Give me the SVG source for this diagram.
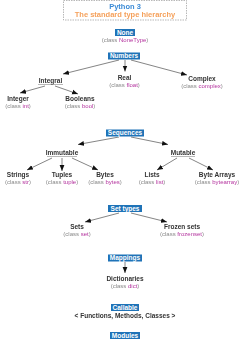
<svg xmlns="http://www.w3.org/2000/svg" width="250" height="354" viewBox="0 0 250 354">
<defs>
<style>
.bx{fill:#1f73b7}
.bt{font-family:"Liberation Sans",Arial,sans-serif;font-size:6.5px;font-weight:bold;fill:#fff;text-anchor:middle}
.nm{font-family:"Liberation Sans",Arial,sans-serif;font-size:6.5px;font-weight:bold;fill:#333;text-anchor:middle;filter:url(#gs)}
.cl{font-family:"Liberation Sans",Arial,sans-serif;font-size:6px;fill:#888;text-anchor:middle;filter:url(#id)}
.cn{fill:#b4339e}
.ln{stroke:#666;stroke-width:0.8;fill:none;marker-end:url(#ah)}
.ul{stroke:#888;stroke-width:0.6}
</style>
<filter id="gs" x="-10%" y="-50%" width="120%" height="200%"><feColorMatrix type="saturate" values="0"/></filter>
<filter id="id" x="-10%" y="-50%" width="120%" height="200%"><feOffset dx="0" dy="0"/></filter>
<marker id="ah" viewBox="0 0 10 10" refX="10" refY="5" markerWidth="6" markerHeight="6" markerUnits="userSpaceOnUse" orient="auto">
<path d="M0,1 L10,5 L0,9 z" fill="#111"/>
</marker>
</defs>
<rect x="0" y="0" width="250" height="354" fill="#fff"/>
<g id="title">
<rect x="63.5" y="0.5" width="123" height="19.5" fill="#fff" stroke="#999" stroke-width="0.7" stroke-dasharray="1.5,1"/>
<g filter="url(#id)">
<text x="125" y="8.5" font-family="Liberation Sans,Arial,sans-serif" font-size="7.5" font-weight="bold" fill="#3a8ad6" text-anchor="middle">Python 3</text>
<text x="125" y="17" font-family="Liberation Sans,Arial,sans-serif" font-size="7.5" font-weight="bold" fill="#f5a05a" text-anchor="middle">The standard type hierarchy</text>
</g>
</g>
<g id="connectors">
<line class="ln" x1="119" y1="60" x2="63" y2="74"/>
<line class="ln" x1="125" y1="60" x2="125" y2="71.5"/>
<line class="ln" x1="131" y1="60" x2="187" y2="75"/>
<line class="ln" x1="45" y1="86" x2="20" y2="93"/>
<line class="ln" x1="55" y1="86" x2="78" y2="94"/>
<line class="ln" x1="119" y1="137" x2="78" y2="144.5"/>
<line class="ln" x1="131" y1="137" x2="168" y2="144.5"/>
<line class="ln" x1="52" y1="158" x2="27" y2="170"/>
<line class="ln" x1="62" y1="158" x2="62" y2="171"/>
<line class="ln" x1="72" y1="158" x2="98" y2="170"/>
<line class="ln" x1="177" y1="158" x2="157" y2="170"/>
<line class="ln" x1="189" y1="158" x2="213" y2="170"/>
<line class="ln" x1="119" y1="213" x2="85" y2="222"/>
<line class="ln" x1="131" y1="213" x2="167" y2="222"/>
<line class="ln" x1="125" y1="262" x2="125" y2="273"/>
</g>
<g id="none"><rect class="bx" x="115" y="29" width="20" height="7"/><text class="bt" x="125" y="34.5">None</text>
<text class="cl" x="125" y="41.5">(class <tspan class="cn">NoneType</tspan>)</text></g>
<g id="numbers"><rect class="bx" x="108" y="52.5" width="32" height="7"/><text class="bt" x="124" y="58">Numbers</text></g>
<g id="integral"><text class="nm" x="50.5" y="83">Integral</text><line class="ul" x1="38" y1="84.5" x2="63" y2="84.5"/></g>
<g id="real"><text class="nm" x="124.5" y="80">Real</text><text class="cl" x="124.5" y="87">(class <tspan class="cn">float</tspan>)</text></g>
<g id="complex"><text class="nm" x="202" y="80.5">Complex</text><text class="cl" x="202" y="87.5">(class <tspan class="cn">complex</tspan>)</text></g>
<g id="integer"><text class="nm" x="18" y="101">Integer</text><text class="cl" x="18" y="108">(class <tspan class="cn">int</tspan>)</text></g>
<g id="booleans"><text class="nm" x="80" y="101">Booleans</text><text class="cl" x="80" y="108">(class <tspan class="cn">bool</tspan>)</text></g>
<g id="sequences"><rect class="bx" x="106" y="129.5" width="38" height="7"/><text class="bt" x="125" y="135">Sequences</text></g>
<g id="immutable"><text class="nm" x="62" y="155">Immutable</text><line class="ul" x1="47" y1="156.5" x2="77" y2="156.5"/></g>
<g id="mutable"><text class="nm" x="183" y="155">Mutable</text><line class="ul" x1="171" y1="156.5" x2="195" y2="156.5"/></g>
<g id="strings"><text class="nm" x="18" y="177">Strings</text><text class="cl" x="18" y="184">(class <tspan class="cn">str</tspan>)</text></g>
<g id="tuples"><text class="nm" x="62" y="177">Tuples</text><text class="cl" x="62" y="184">(class <tspan class="cn">tuple</tspan>)</text></g>
<g id="bytes"><text class="nm" x="105" y="177">Bytes</text><text class="cl" x="105" y="184">(class <tspan class="cn">bytes</tspan>)</text></g>
<g id="lists"><text class="nm" x="152" y="177">Lists</text><text class="cl" x="152" y="184">(class <tspan class="cn">list</tspan>)</text></g>
<g id="bytearrays"><text class="nm" x="217" y="177">Byte Arrays</text><text class="cl" x="217" y="184">(class <tspan class="cn">bytearray</tspan>)</text></g>
<g id="settypes"><rect class="bx" x="108" y="205" width="34" height="7"/><text class="bt" x="125" y="210.5">Set types</text></g>
<g id="sets"><text class="nm" x="77" y="229">Sets</text><text class="cl" x="77" y="236">(class <tspan class="cn">set</tspan>)</text></g>
<g id="frozensets"><text class="nm" x="182" y="229">Frozen sets</text><text class="cl" x="182" y="236">(class <tspan class="cn">frozenset</tspan>)</text></g>
<g id="mappings"><rect class="bx" x="108" y="254.5" width="34" height="7"/><text class="bt" x="125" y="260">Mappings</text></g>
<g id="dictionaries"><text class="nm" x="125" y="281">Dictionaries</text><text class="cl" x="125" y="288">(class <tspan class="cn">dict</tspan>)</text></g>
<g id="callable"><rect class="bx" x="111" y="304" width="28" height="7"/><text class="bt" x="125" y="309.5">Callable</text>
<text class="nm" x="125" y="317.5">&lt; Functions, Methods, Classes &gt;</text></g>
<g id="modules"><rect class="bx" x="110" y="332" width="30" height="7"/><text class="bt" x="125" y="337.5">Modules</text></g>
</svg>
